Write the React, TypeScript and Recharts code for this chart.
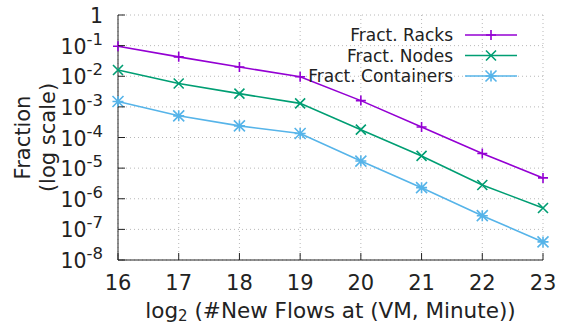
import React from 'react';
import { LineChart, Line, XAxis, YAxis, CartesianGrid } from 'recharts';

const flows = [16, 17, 18, 19, 20, 21, 22, 23];
const racks = [0.095, 0.043, 0.02, 0.0096, 0.0016, 0.00022, 0.00003, 0.0000048];
const nodes = [0.016, 0.0058, 0.0027, 0.0013, 0.00018, 0.000025, 0.0000028, 0.0000005];
const containers = [0.0015, 0.00051, 0.00024, 0.000135, 0.000017, 0.0000023, 0.00000028, 0.000000039];
const yTicks = [1, 1e-1, 1e-2, 1e-3, 1e-4, 1e-5, 1e-6, 1e-7, 1e-8];

const data = flows.map((f, i) => ({
  flows: f,
  racks: racks[i],
  nodes: nodes[i],
  containers: containers[i],
}));

const FONT = '"DejaVu Sans", sans-serif';
const INK = '#222';

type MarkerKind = 'plus' | 'cross' | 'star';

const markerPath = (kind: MarkerKind, cx: number, cy: number, r: number) => {
  const plus = `M${cx - r},${cy}H${cx + r}M${cx},${cy - r}V${cy + r}`;
  const cross = `M${cx - r},${cy - r}L${cx + r},${cy + r}M${cx - r},${cy + r}L${cx + r},${cy - r}`;
  if (kind === 'plus') return plus;
  if (kind === 'cross') return cross;
  return plus + cross;
};

const series = [
  { key: 'racks', name: 'Fract. Racks', color: '#9400d3', marker: 'plus' as MarkerKind, r: 5 },
  { key: 'nodes', name: 'Fract. Nodes', color: '#009e73', marker: 'cross' as MarkerKind, r: 5 },
  { key: 'containers', name: 'Fract. Containers', color: '#56b4e9', marker: 'star' as MarkerKind, r: 5.5 },
];

const makeDot = (kind: MarkerKind, color: string, r: number) => (props: any) => {
  const { cx, cy, index } = props;
  if (cx == null || cy == null) return <g key={index} />;
  return <path key={index} d={markerPath(kind, cx, cy, r)} stroke={color} strokeWidth={1.6} fill="none" />;
};

// tickMargin is 15, so the axis sits 15px right of x
const YTick = (props: any) => {
  const { x, y, payload } = props;
  const exp = Math.round(Math.log10(payload.value));
  return (
    <g>
      <line x1={x + 15} x2={x + 22} y1={y} y2={y} stroke={INK} strokeWidth={1} />
      <text x={x} y={y + 1} textAnchor="end" dominantBaseline="central"
        fontFamily={FONT} fontSize={20.5} fill={INK}>
        {exp === 0 ? '1' : (
          <>
            10<tspan dy={-8} fontSize={16.5}>{exp}</tspan>
          </>
        )}
      </text>
    </g>
  );
};

const XTick = (props: any) => {
  const { x, y, payload } = props;
  return (
    <g>
      <line x1={x} x2={x} y1={y} y2={y - 7} stroke={INK} strokeWidth={1} />
      <text x={x} y={y + 23} textAnchor="middle" dominantBaseline="central"
        fontFamily={FONT} fontSize={21} fill={INK}>
        {payload.value}
      </text>
    </g>
  );
};

const XLabel = (props: any) => {
  const { viewBox } = props;
  const cx = viewBox.x + viewBox.width / 2;
  return (
    <text x={cx} y={viewBox.y + 50} textAnchor="middle" dominantBaseline="central"
      fontFamily={FONT} fontSize={21.5} fill={INK}>
      log<tspan dy={6} fontSize={15}>2</tspan><tspan dy={-6}> (#New Flows at (VM, Minute))</tspan>
    </text>
  );
};

const YLabel = (props: any) => {
  const { viewBox } = props;
  const cy = viewBox.y + viewBox.height / 2;
  const x1 = viewBox.x + 23;
  const x2 = viewBox.x + 48;
  return (
    <g fontFamily={FONT} fontSize={21} fill={INK}>
      <text x={x1} y={cy} textAnchor="middle" dominantBaseline="central" transform={`rotate(-90 ${x1} ${cy})`}>
        Fraction
      </text>
      <text x={x2} y={cy} textAnchor="middle" dominantBaseline="central" transform={`rotate(-90 ${x2} ${cy})`}>
        (log scale)
      </text>
    </g>
  );
};

const LegendOverlay = () => (
  <svg width={564} height={324} style={{ position: 'absolute', left: 0, top: 0, pointerEvents: 'none' }}>
    {series.map((s, i) => {
      const y = 35 + i * 20.5;
      return (
        <g key={s.key}>
          <text x={453} y={y} textAnchor="end" dominantBaseline="central" fontFamily={FONT} fontSize={17} fill={INK}>
            {s.name}
          </text>
          <line x1={465} x2={517} y1={y} y2={y} stroke={s.color} strokeWidth={1.6} />
          <path d={markerPath(s.marker, 491, y, s.r)} stroke={s.color} strokeWidth={1.6} fill="none" />
        </g>
      );
    })}
  </svg>
);

export default function App() {
  return (
    <div style={{ position: 'fixed', left: 0, top: 0, width: 564, height: 324, background: '#fff' }}>
      <LineChart width={564} height={324} data={data} margin={{ top: 15, right: 21, bottom: 0, left: 0 }}>
        <CartesianGrid stroke="#b8b8b8" strokeDasharray="1 3" />
        <XAxis
          dataKey="flows"
          type="number"
          domain={[16, 23]}
          ticks={flows}
          height={64}
          tickSize={0}
          tickMargin={0}
          tickLine={false}
          axisLine={{ stroke: INK, strokeWidth: 1 }}
          tick={<XTick />}
          label={<XLabel />}
          interval={0}
        />
        <YAxis
          scale="log"
          type="number"
          domain={[1e-8, 1]}
          ticks={yTicks}
          width={118}
          tickSize={0}
          tickMargin={15}
          tickLine={false}
          axisLine={{ stroke: INK, strokeWidth: 1 }}
          tick={<YTick />}
          label={<YLabel />}
          interval={0}
          allowDataOverflow
        />
        {series.map((s) => (
          <Line
            key={s.key}
            dataKey={s.key}
            name={s.name}
            stroke={s.color}
            strokeWidth={1.6}
            type="linear"
            dot={makeDot(s.marker, s.color, s.r)}
            activeDot={false}
            isAnimationActive={false}
          />
        ))}
      </LineChart>
      <LegendOverlay />
    </div>
  );
}
